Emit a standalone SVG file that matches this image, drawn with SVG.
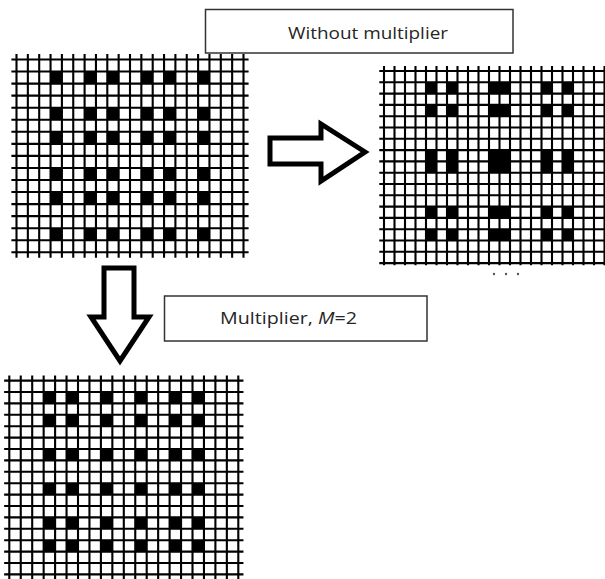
<svg xmlns="http://www.w3.org/2000/svg" width="605" height="579" viewBox="0 0 605 579">
  <style>
    .gl { fill: none; stroke: #000; stroke-width: 2.1; vector-effect: non-scaling-stroke; }
    .cell { fill: #000; }
    .box { fill: #fff; stroke: #333; stroke-width: 1.5; }
    .lbl { font-family: "Open Sans", "Liberation Sans", sans-serif; fill: #262626; }
    .big-arrow { fill: #fff; stroke: #000; stroke-width: 5; stroke-linejoin: miter; }
  </style>
  <defs>
    <!-- one row of filled cells, in cell units -->
    <path id="rowA" class="cell" d="M3 0h1v1h-1zM6 0h1v1h-1zM8 0h1v1h-1zM11 0h1v1h-1zM13 0h1v1h-1zM16 0h1v1h-1z"/>
    <path id="rowB" class="cell" d="M4 0h1v1h-1zM6 0h1v1h-1zM10 0h2v1h-2zM15 0h1v1h-1zM17 0h1v1h-1z"/>
    <path id="rowC" class="cell" d="M3 0h1v1h-1zM5 0h1v1h-1zM8 0h1v1h-1zM11 0h1v1h-1zM14 0h1v1h-1zM16 0h1v1h-1z"/>
    <!-- 20 x 16 lattice lines, slightly overshooting the border -->
    <path id="lines20x16" class="gl" vector-effect="non-scaling-stroke" d="M0-.45V16.45M1-.45V16.45M2-.45V16.45M3-.45V16.45M4-.45V16.45M5-.45V16.45M6-.45V16.45M7-.45V16.45M8-.45V16.45M9-.45V16.45M10-.45V16.45M11-.45V16.45M12-.45V16.45M13-.45V16.45M14-.45V16.45M15-.45V16.45M16-.45V16.45M17-.45V16.45M18-.45V16.45M19-.45V16.45M20-.45V16.45M-.45 0H20.45M-.45 1H20.45M-.45 2H20.45M-.45 3H20.45M-.45 4H20.45M-.45 5H20.45M-.45 6H20.45M-.45 7H20.45M-.45 8H20.45M-.45 9H20.45M-.45 10H20.45M-.45 11H20.45M-.45 12H20.45M-.45 13H20.45M-.45 14H20.45M-.45 15H20.45M-.45 16H20.45"/>
    <!-- 20 x 17 lattice lines -->
    <path id="lines20x17" class="gl" vector-effect="non-scaling-stroke" d="M0-.45V17.4M1-.45V17.4M2-.45V17.4M3-.45V17.4M4-.45V17.4M5-.45V17.4M6-.45V17.4M7-.45V17.4M8-.45V17.4M9-.45V17.4M10-.45V17.4M11-.45V17.4M12-.45V17.4M13-.45V17.4M14-.45V17.4M15-.45V17.4M16-.45V17.4M17-.45V17.4M18-.45V17.4M19-.45V17.4M20-.45V17.4M-.45 0H20.45M-.45 1H20.45M-.45 2H20.45M-.45 3H20.45M-.45 4H20.45M-.45 5H20.45M-.45 6H20.45M-.45 7H20.45M-.45 8H20.45M-.45 9H20.45M-.45 10H20.45M-.45 11H20.45M-.45 12H20.45M-.45 13H20.45M-.45 14H20.45M-.45 15H20.45M-.45 16H20.45M-.45 17H20.45"/>
    <!-- 22 x 17 lattice lines -->
    <path id="lines22x17" class="gl" vector-effect="non-scaling-stroke" d="M0-.45V17.2M1-.45V17.2M2-.45V17.2M3-.45V17.2M4-.45V17.2M5-.45V17.2M6-.45V17.2M7-.45V17.2M8-.45V17.2M9-.45V17.2M10-.45V17.2M11-.45V17.2M12-.45V17.2M13-.45V17.2M14-.45V17.2M15-.45V17.2M16-.45V17.2M17-.45V17.2M18-.45V17.2M19-.45V17.2M20-.45V17.2M21-.45V17.2M22-.45V17.2M-.45 0H22.45M-.45 1H22.45M-.45 2H22.45M-.45 3H22.45M-.45 4H22.45M-.45 5H22.45M-.45 6H22.45M-.45 7H22.45M-.45 8H22.45M-.45 9H22.45M-.45 10H22.45M-.45 11H22.45M-.45 12H22.45M-.45 13H22.45M-.45 14H22.45M-.45 15H22.45M-.45 16H22.45M-.45 17H22.45"/>
  </defs>

  <rect width="605" height="579" fill="#fff"/>

  <!-- input lattice -->
  <g id="grid-input" transform="translate(16.5 59.5) scale(11.35 12.05)">
    <use href="#rowA" y="1"/>
    <use href="#rowA" y="4"/>
    <use href="#rowA" y="6"/>
    <use href="#rowA" y="9"/>
    <use href="#rowA" y="11"/>
    <use href="#rowA" y="14"/>
    <use href="#lines20x16"/>
  </g>

  <!-- result without multiplier -->
  <g id="grid-no-multiplier" transform="translate(384 71) scale(10.5 11.3)">
    <use href="#rowB" y="1"/>
    <use href="#rowB" y="3"/>
    <use href="#rowB" y="7"/>
    <use href="#rowB" y="8"/>
    <use href="#rowB" y="12"/>
    <use href="#rowB" y="14"/>
    <use href="#lines22x17"/>
  </g>
  <g id="ellipsis" fill="#555">
    <circle cx="494" cy="274" r="1.2"/>
    <circle cx="506" cy="274" r="1.2"/>
    <circle cx="518" cy="274" r="1.2"/>
  </g>

  <!-- result with multiplier -->
  <g id="grid-multiplier" transform="translate(9.3 380.6) scale(11.45 11.4)">
    <use href="#rowC" y="1"/>
    <use href="#rowC" y="3"/>
    <use href="#rowC" y="6"/>
    <use href="#rowC" y="9"/>
    <use href="#rowC" y="12"/>
    <use href="#rowC" y="14"/>
    <use href="#lines20x17"/>
  </g>

  <!-- labels -->
  <g id="label-without">
    <rect class="box" x="205.5" y="9.5" width="307.5" height="43.5"/>
    <text class="lbl" x="288" y="38.5" font-size="17" textLength="160" lengthAdjust="spacingAndGlyphs">Without multiplier</text>
  </g>
  <g id="label-multiplier">
    <rect class="box" x="164.5" y="296" width="262.5" height="45"/>
    <text class="lbl" x="220" y="323.5" font-size="16.5" textLength="137" lengthAdjust="spacingAndGlyphs">Multiplier, <tspan font-style="italic">M</tspan>=2</text>
  </g>

  <!-- block arrows -->
  <g id="connectors">
    <path class="big-arrow" d="M270 138H321V124L365 152L321 181V164H270Z"/>
    <path class="big-arrow" d="M104 268H134V317H149L120 361L91 317H104Z"/>
  </g>
</svg>
